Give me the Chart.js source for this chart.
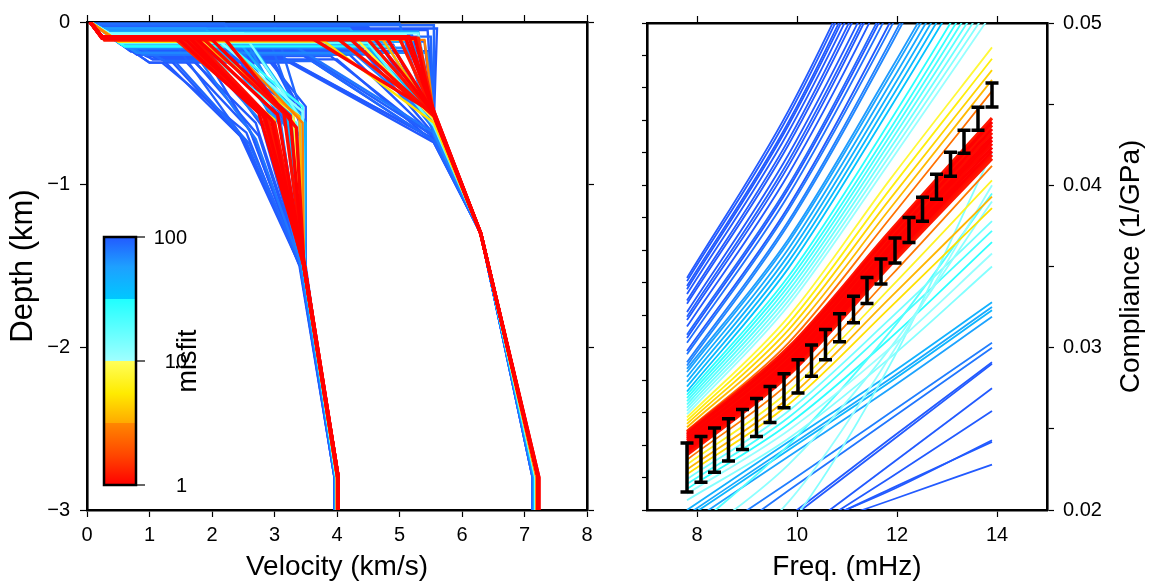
<!DOCTYPE html>
<html>
<head>
<meta charset="utf-8">
<script src="https://cdn.jsdelivr.net/npm/chart.js@4.4.1/dist/chart.umd.min.js"></script>
<style>
  body { margin: 0; background: #fff; }
  #wrap { position: relative; width: 1149px; height: 586px; }
  canvas { position: absolute; top: 0; }
  #velChart { left: 0; }
  #compChart { left: 600px; }
</style>
</head>
<body>
<div id="wrap">
  <canvas id="velChart" width="600" height="586"></canvas>
  <canvas id="compChart" width="549" height="586"></canvas>
</div>
<script>
// ---------- left panel: velocity models ----------
const velTicks = [0, 1, 2, 3, 4, 5, 6, 7, 8];
const depthTicks = [-3, -2, -1, 0];

const modelMisfit = [100, 100, 100, 100, 100, 100, 100, 100, 90, 90, 85, 80, 75, 70, 60, 50, 40, 25, 18, 14, 8, 5, 3.5, 1.3, 1.2, 1.15, 1.1, 1.05, 1.0, 1.0, 1.0,
  100, 100, 100, 100, 100, 100, 100, 95, 90, 85, 80, 70, 60, 45, 30, 12, 3, 1.0, 1.1, 1.0];
const sedDepth = [-0.22, -0.25, -0.20, -0.18, -0.04, -0.12, -0.15, -0.08, -0.24, -0.02, -0.01, -0.20, -0.10, -0.16, -0.14, -0.06, -0.11, -0.09, -0.13, -0.07, -0.10, -0.12, -0.09, -0.10, -0.10, -0.11, -0.10, -0.10, -0.10, -0.10, -0.10,
  -0.19, -0.21, -0.17, -0.14, -0.05, -0.03, -0.23, -0.13, -0.09, -0.16, -0.07, -0.19, -0.04, -0.12, -0.15, -0.08, -0.11, -0.10, -0.10, -0.09];
const sedVel = [1.10, 1.00, 0.80, 0.70, 0.25, 0.50, 0.60, 0.40, 1.25, 0.15, 0.10, 0.90, 0.45, 0.65, 0.55, 0.35, 0.50, 0.40, 0.55, 0.35, 0.42, 0.50, 0.40, 0.26, 0.25, 0.28, 0.25, 0.24, 0.26, 0.25, 0.25,
  0.85, 0.95, 0.75, 0.60, 0.30, 0.20, 1.05, 0.55, 0.40, 0.70, 0.30, 0.80, 0.25, 0.50, 0.60, 0.40, 0.45, 0.25, 0.25, 0.24];
const vsTop = [1.30, 1.20, 1.60, 2.00, 2.50, 2.80, 1.80, 2.40, 1.40, 3.00, 2.20, 2.20, 1.60, 2.60, 2.00, 2.30, 1.90, 2.10, 1.70, 2.50, 1.80, 1.50, 1.70, 1.40, 1.60, 1.50, 1.70, 2.20, 1.45, 1.55, 1.65,
  1.10, 1.50, 1.90, 2.30, 2.70, 2.00, 1.70, 1.40, 2.90, 2.40, 1.50, 2.70, 1.90, 2.60, 2.30, 2.00, 2.20, 1.75, 1.85, 1.95];
const vsMid = [2.50, 2.55, 2.70, 3.40, 3.50, 3.45, 2.65, 3.35, 2.60, 3.50, 3.30, 3.10, 2.90, 3.40, 3.30, 3.50, 3.20, 3.45, 3.35, 3.40, 3.30, 3.00, 3.40, 2.85, 2.90, 2.80, 3.00, 3.35, 2.75, 2.95, 2.85,
  2.45, 2.60, 2.80, 3.00, 3.45, 3.20, 2.75, 2.55, 3.40, 3.20, 2.70, 3.45, 3.10, 3.50, 3.45, 3.45, 3.45, 3.05, 3.15, 3.25];
const vsMidDepth = [-0.72, -0.68, -0.62, -0.55, -0.52, -0.60, -0.70, -0.75, -0.75, -0.65, -0.68, -0.62, -0.66, -0.70, -0.58, -0.64, -0.55, -0.52, -0.62, -0.58, -0.56, -0.60, -0.58, -0.58, -0.60, -0.55, -0.62, -0.65, -0.56, -0.60, -0.59,
  -0.70, -0.66, -0.64, -0.62, -0.56, -0.60, -0.70, -0.74, -0.62, -0.66, -0.72, -0.60, -0.64, -0.62, -0.60, -0.55, -0.62, -0.57, -0.56, -0.58];
const vpTop = [3.10, 3.30, 4.20, 5.50, 5.60, 5.40, 2.80, 5.20, 3.60, 5.55, 5.00, 4.60, 4.00, 5.10, 4.80, 5.30, 4.40, 5.00, 4.50, 5.30, 4.30, 3.80, 4.70, 5.30, 5.00, 4.50, 4.20, 3.60, 5.10, 4.80, 5.25,
  3.40, 3.90, 4.40, 4.90, 5.45, 4.50, 4.00, 3.20, 5.50, 5.30, 3.00, 5.45, 4.20, 5.20, 4.90, 5.10, 5.40, 4.60, 4.00, 5.15];
const vpMidDepth = [-0.74, -0.72, -0.70, -0.66, -0.60, -0.65, -0.72, -0.70, -0.73, -0.55, -0.68, -0.66, -0.62, -0.64, -0.62, -0.60, -0.58, -0.58, -0.64, -0.57, -0.60, -0.62, -0.58, -0.56, -0.56, -0.57, -0.58, -0.56, -0.55, -0.56, -0.57,
  -0.73, -0.71, -0.69, -0.68, -0.62, -0.64, -0.74, -0.70, -0.63, -0.70, -0.68, -0.68, -0.63, -0.62, -0.60, -0.59, -0.58, -0.56, -0.57, -0.55];
const vsDeep = [3.42, 3.40, 3.44, 3.48, 3.50, 3.47, 3.41, 3.45, 3.43, 3.49, 3.46, 3.44, 3.42, 3.47, 3.46, 3.49, 3.45, 3.47, 3.46, 3.48, 3.47, 3.46, 3.47, 3.47, 3.48, 3.47, 3.48, 3.47, 3.48, 3.47, 3.48,
  3.41, 3.42, 3.43, 3.45, 3.48, 3.46, 3.42, 3.41, 3.47, 3.44, 3.43, 3.47, 3.45, 3.48, 3.47, 3.47, 3.47, 3.47, 3.48, 3.47];
const vsBase = [3.97, 3.96, 3.98, 3.99, 3.98, 3.97, 3.96, 3.98, 3.97, 3.99, 3.98, 3.97, 3.98, 3.97, 3.98, 3.99, 3.98, 3.99, 3.99, 4.00, 4.00, 4.00, 4.00, 4.01, 4.01, 4.01, 4.02, 4.02, 4.02, 4.02, 4.02,
  3.96, 3.97, 3.97, 3.98, 3.98, 3.97, 3.96, 3.97, 3.98, 3.97, 3.98, 3.98, 3.98, 3.99, 3.99, 3.99, 4.00, 4.02, 4.02, 4.02];
const vpBase = [7.14, 7.13, 7.15, 7.16, 7.17, 7.15, 7.14, 7.16, 7.13, 7.17, 7.15, 7.14, 7.16, 7.15, 7.16, 7.17, 7.16, 7.18, 7.18, 7.19, 7.19, 7.20, 7.20, 7.22, 7.22, 7.22, 7.22, 7.23, 7.22, 7.23, 7.22,
  7.13, 7.14, 7.15, 7.15, 7.16, 7.14, 7.13, 7.14, 7.16, 7.15, 7.16, 7.15, 7.16, 7.17, 7.17, 7.18, 7.19, 7.22, 7.22, 7.22];
// shared nodes of every model
const surfaceVel = 0.05;
const vpMidVel = 5.55;
const vpKnee = [6.3, -1.3];
const vsDeepDepth = -1.5;
const baseDepth = -2.8;
const bottomDepth = -3.0;

// ---------- right panel: compliance curves ----------
const freqNodes = [7.8, 9.83, 11.87, 13.9];
const freqTicks = [8, 10, 12, 14];
const compTicks = [0.02, 0.025, 0.03, 0.035, 0.04, 0.045, 0.05];
const compMinorTicks = [0.02, 0.022, 0.024, 0.026, 0.028, 0.03, 0.032, 0.034, 0.036, 0.038, 0.04, 0.042, 0.044, 0.046, 0.048, 0.05];

const curvesBlueUpper = [
  [0.0289, 0.0376, 0.0486, 0.0607], [0.0291, 0.0378, 0.0489, 0.0611], [0.0296, 0.0385, 0.0497, 0.0622],
  [0.0298, 0.0387, 0.0501, 0.0626], [0.0303, 0.0394, 0.0509, 0.0636], [0.0306, 0.0398, 0.0514, 0.0643],
  [0.0308, 0.0400, 0.0517, 0.0647], [0.0313, 0.0407, 0.0526, 0.0657], [0.0317, 0.0412, 0.0533, 0.0666],
  [0.0319, 0.0415, 0.0536, 0.0670], [0.0322, 0.0419, 0.0541, 0.0676], [0.0327, 0.0425, 0.0549, 0.0687],
  [0.0329, 0.0428, 0.0553, 0.0691], [0.0333, 0.0433, 0.0559, 0.0699], [0.0336, 0.0437, 0.0564, 0.0706],
  [0.0338, 0.0439, 0.0568, 0.0710], [0.0341, 0.0443, 0.0573, 0.0716], [0.0343, 0.0446, 0.0576, 0.0720]
];
const misfitBlueUpper = [70, 75, 80, 100, 85, 100, 90, 100, 100, 95, 100, 100, 100, 100, 100, 100, 100, 100];

const curvesLightUpper = [
  [0.0273, 0.0349, 0.0448, 0.0551], [0.0276, 0.0353, 0.0453, 0.0558], [0.0279, 0.0357, 0.0458, 0.0564],
  [0.0282, 0.0361, 0.0463, 0.0570], [0.0285, 0.0365, 0.0468, 0.0576], [0.0287, 0.0367, 0.0471, 0.0580]
];
const misfitLightUpper = [34, 40, 45, 50, 55, 60];

const curvesCyanUpper = [
  [0.0259, 0.0326, 0.0415, 0.0506], [0.0261, 0.0329, 0.0419, 0.0512], [0.0263, 0.0332, 0.0423, 0.0518],
  [0.0265, 0.0335, 0.0427, 0.0524], [0.0267, 0.0338, 0.0431, 0.0530], [0.0269, 0.0341, 0.0435, 0.0536],
  [0.0271, 0.0344, 0.0440, 0.0542]
];
const misfitCyanUpper = [11, 13, 16, 19, 22, 26, 29];

const curvesOrangeUpper = [
  [0.0249, 0.0303, 0.0380, 0.0458], [0.0251, 0.0307, 0.0386, 0.0465], [0.0253, 0.0311, 0.0392, 0.0471],
  [0.0255, 0.0315, 0.0398, 0.0478], [0.0257, 0.0319, 0.0404, 0.0485]
];
const misfitOrangeUpper = [2.6, 3.6, 4.5, 6, 8];

const curvesRed = [
  [0.02340, 0.02831, 0.03510, 0.04165], [0.02353, 0.02847, 0.03530, 0.04188], [0.02365, 0.02862, 0.03548, 0.04210],
  [0.02378, 0.02877, 0.03567, 0.04233], [0.02391, 0.02893, 0.03587, 0.04256], [0.02404, 0.02909, 0.03606, 0.04279],
  [0.02416, 0.02923, 0.03624, 0.04300], [0.02429, 0.02939, 0.03644, 0.04324], [0.02442, 0.02955, 0.03663, 0.04347],
  [0.02455, 0.02971, 0.03683, 0.04370], [0.02467, 0.02985, 0.03701, 0.04391], [0.02480, 0.03001, 0.03720, 0.04414]
];
const misfitRed = [1.2, 1.1, 1.0, 1.0, 1.05, 1.0, 1.0, 1.1, 1.0, 1.15, 1.0, 1.2];

const curvesOrangeLower = [
  [0.0231, 0.0278, 0.0344, 0.0412], [0.0228, 0.0273, 0.0337, 0.0403],
  [0.0225, 0.0269, 0.0331, 0.0393], [0.0222, 0.0265, 0.0325, 0.0386]
];
const misfitOrangeLower = [2.8, 7, 3.5, 5];

const curvesCyanLower = [
  [0.0219, 0.0261, 0.0318, 0.0378], [0.0216, 0.0257, 0.0313, 0.0372], [0.0213, 0.0253, 0.0306, 0.0365],
  [0.0210, 0.0249, 0.0300, 0.0358], [0.0206, 0.0244, 0.0294, 0.0350],
  [0.0185, 0.0240, 0.0310, 0.0395], [0.0178, 0.0228, 0.0300, 0.0390],
  [0.0150, 0.0205, 0.0295, 0.0400], [0.0130, 0.0190, 0.0290, 0.0420]
];
const misfitCyanLower = [15, 22, 28, 11, 13, 20, 12, 11, 13];

const curvesLowerFan = [
  [0.0200, 0.0242, 0.0284, 0.0328], [0.0197, 0.0239, 0.0281, 0.0325], [0.0195, 0.0237, 0.0279, 0.0323],
  [0.0191, 0.0233, 0.0275, 0.0319], [0.0175, 0.0217, 0.0260, 0.0303], [0.0167, 0.0212, 0.0256, 0.0300],
  [0.0149, 0.0196, 0.0244, 0.0291], [0.0146, 0.0194, 0.0242, 0.0290], [0.0134, 0.0181, 0.0228, 0.0275],
  [0.0139, 0.0180, 0.0220, 0.0261], [0.0154, 0.0185, 0.0212, 0.0243], [0.0150, 0.0183, 0.0213, 0.0242],
  [0.0160, 0.0184, 0.0206, 0.0228]
];
const misfitLowerFan = [45, 50, 42, 55, 75, 80, 100, 100, 100, 100, 100, 100, 100];

// observed compliance with error bars
const obsFreq = [7.8, 8.08, 8.35, 8.63, 8.91, 9.19, 9.46, 9.74, 10.02, 10.29, 10.57, 10.85, 11.13, 11.40, 11.68, 11.96, 12.24, 12.51, 12.79, 13.07, 13.34, 13.62, 13.9];
const obsComp = [0.02262, 0.02312, 0.02369, 0.02432, 0.02496, 0.02570, 0.02650, 0.02735, 0.02823, 0.02920, 0.03019, 0.03123, 0.03235, 0.03352, 0.03469, 0.03599, 0.03725, 0.03852, 0.03991, 0.04130, 0.04269, 0.04410, 0.04556];
const obsErr = [0.00151, 0.00141, 0.00136, 0.00130, 0.00123, 0.00117, 0.00111, 0.00105, 0.00103, 0.00096, 0.00093, 0.00086, 0.00082, 0.00080, 0.00077, 0.00077, 0.00077, 0.00074, 0.00077, 0.00074, 0.00071, 0.00071, 0.00074];

// misfit colour scale (log10 misfit / 2 -> colour)
const cmapStops = [
  [0.00, [255, 0, 0]],
  [0.12, [255, 70, 0]],
  [0.25, [255, 135, 0]],
  [0.25, [255, 170, 0]],
  [0.37, [255, 235, 0]],
  [0.50, [255, 255, 90]],
  [0.50, [160, 255, 255]],
  [0.75, [32, 255, 255]],
  [0.75, [0, 200, 255]],
  [0.88, [30, 160, 255]],
  [1.00, [34, 90, 255]]
];

const FONT = '"Liberation Sans", Arial, Helvetica, sans-serif';
Chart.defaults.font.family = FONT;
Chart.defaults.color = '#000';

function misfitColor(m) {
  const t = Math.min(1, Math.max(0, Math.log10(m) / 2));
  for (let i = 1; i < cmapStops.length; i++) {
    const [t0, c0] = cmapStops[i - 1];
    const [t1, c1] = cmapStops[i];
    if (t1 > t0 && t <= t1) {
      const f = (t - t0) / (t1 - t0);
      const c = c0.map((v, k) => Math.round(v + (c1[k] - v) * f));
      return `rgb(${c.join(',')})`;
    }
  }
  return 'rgb(34,90,255)';
}

function lineSet(points, color, width, smooth) {
  return {
    data: points,
    showLine: true,
    borderColor: color,
    borderWidth: width,
    pointRadius: 0,
    fill: false,
    cubicInterpolationMode: smooth ? 'monotone' : 'default',
    tension: 0
  };
}

function frameAxis(extra) {
  return Object.assign({
    type: 'linear',
    grid: { drawOnChartArea: false, drawTicks: true, tickLength: 7, tickColor: '#000', tickWidth: 1.2 },
    border: { display: true, color: '#000', width: 2.6 },
    ticks: { font: { size: 20 }, color: '#000' }
  }, extra);
}

function fixedTicks(values) {
  return (s) => { s.ticks = values.map(v => ({ value: v })); };
}

// ---------- build left datasets ----------
// Chart.js paints dataset 0 last (on top), so best fits go first
const velDatasets = [];
const modelOrder = modelMisfit.map((m, i) => i).sort((a, b) => modelMisfit[a] - modelMisfit[b]);
modelOrder.forEach(i => {
  const color = misfitColor(modelMisfit[i]);
  const width = modelMisfit[i] < 2 ? 3.4 : 2.4;
  const vp = [
    { x: surfaceVel, y: 0 },
    { x: sedVel[i], y: sedDepth[i] },
    { x: vpTop[i], y: sedDepth[i] },
    { x: vpMidVel, y: vpMidDepth[i] },
    { x: vpKnee[0], y: vpKnee[1] },
    { x: vpBase[i], y: baseDepth },
    { x: vpBase[i], y: bottomDepth }
  ];
  const vs = [
    { x: surfaceVel, y: 0 },
    { x: sedVel[i], y: sedDepth[i] },
    { x: vsTop[i], y: sedDepth[i] },
    { x: vsMid[i], y: vsMidDepth[i] },
    { x: vsDeep[i], y: vsDeepDepth },
    { x: vsBase[i], y: baseDepth },
    { x: vsBase[i], y: bottomDepth }
  ];
  velDatasets.push(lineSet(vp, color, width, false), lineSet(vs, color, width, false));
});

const colorbarPlugin = {
  id: 'colorbar',
  afterDatasetsDraw(chart) {
    const { ctx, chartArea } = chart;
    const x0 = chartArea.left + 17, y0 = chartArea.top + 215, w = 32, h = 248;
    const grad = ctx.createLinearGradient(0, y0 + h, 0, y0);
    cmapStops.forEach(([t, c]) => grad.addColorStop(t, `rgb(${c.join(',')})`));
    ctx.save();
    ctx.fillStyle = grad;
    ctx.fillRect(x0, y0, w, h);
    ctx.strokeStyle = '#000';
    ctx.lineWidth = 2.5;
    ctx.strokeRect(x0, y0, w, h);
    ctx.lineWidth = 1.2;
    ctx.font = `20px ${FONT}`;
    ctx.fillStyle = '#000';
    ctx.textAlign = 'right';
    ctx.textBaseline = 'middle';
    [['100', y0], ['10', y0 + h / 2], ['1', y0 + h]].forEach(([label, ty]) => {
      ctx.beginPath();
      ctx.moveTo(x0 + w, ty);
      ctx.lineTo(x0 + w + 9, ty);
      ctx.stroke();
      ctx.fillText(label, chartArea.left + 100, ty + 1);
    });
    ctx.translate(chartArea.left + 102, y0 + h / 2);
    ctx.rotate(-Math.PI / 2);
    ctx.textAlign = 'center';
    ctx.font = `27px ${FONT}`;
    ctx.fillText('misfit', 0, 0);
    ctx.restore();
  }
};

new Chart(document.getElementById('velChart'), {
  type: 'scatter',
  data: { datasets: velDatasets },
  options: {
    responsive: false,
    animation: false,
    layout: { padding: 0 },
    plugins: { legend: { display: false }, tooltip: { enabled: false } },
    scales: {
      x: frameAxis({
        position: 'bottom', min: 0, max: 8,
        afterBuildTicks: fixedTicks(velTicks),
        afterFit: s => { s.height = 76; },
        ticks: { font: { size: 20 }, color: '#000', padding: 6 },
        title: { display: true, text: 'Velocity (km/s)', font: { size: 28 }, padding: { top: 0, bottom: 2 } }
      }),
      xTop: frameAxis({
        position: 'top', min: 0, max: 8,
        afterBuildTicks: fixedTicks(velTicks),
        afterFit: s => { s.height = 15; },
        ticks: { display: false }
      }),
      y: frameAxis({
        position: 'left', min: -3, max: 0,
        afterBuildTicks: fixedTicks(depthTicks),
        afterFit: s => { s.width = 87; },
        ticks: { font: { size: 20 }, color: '#000', padding: 10, callback: v => String(v).replace('-', '\u2212') },
        title: { display: true, text: 'Depth (km)', font: { size: 31 }, padding: { top: 5, bottom: 0 } }
      }),
      yRight: frameAxis({
        position: 'right', min: -3, max: 0,
        afterBuildTicks: fixedTicks(depthTicks),
        afterFit: s => { s.width = 13; },
        ticks: { display: false }
      })
    }
  },
  plugins: [colorbarPlugin]
});

// ---------- build right datasets ----------
const curveGroups = [
  [curvesBlueUpper, misfitBlueUpper],
  [curvesLowerFan, misfitLowerFan],
  [curvesLightUpper, misfitLightUpper],
  [curvesCyanUpper, misfitCyanUpper],
  [curvesCyanLower, misfitCyanLower],
  [curvesOrangeUpper, misfitOrangeUpper],
  [curvesOrangeLower, misfitOrangeLower],
  [curvesRed, misfitRed]
];
const allCurves = [];
curveGroups.forEach(([curves, misfits]) => {
  curves.forEach((c, i) => allCurves.push({ values: c, misfit: misfits[i] }));
});
allCurves.sort((a, b) => a.misfit - b.misfit);
const compDatasets = allCurves.map(c => lineSet(
  freqNodes.map((f, k) => ({ x: f, y: c.values[k] })),
  misfitColor(c.misfit),
  c.misfit < 2 ? 3.2 : 1.8,
  true
));

const errorBarPlugin = {
  id: 'errorBars',
  afterDatasetsDraw(chart) {
    const { ctx, chartArea, scales: { x, y } } = chart;
    ctx.save();
    ctx.beginPath();
    ctx.rect(chartArea.left, chartArea.top, chartArea.right - chartArea.left, chartArea.bottom - chartArea.top);
    ctx.clip();
    ctx.strokeStyle = '#000';
    ctx.lineWidth = 3.5;
    obsFreq.forEach((f, i) => {
      const px = x.getPixelForValue(f);
      const top = y.getPixelForValue(obsComp[i] + obsErr[i]);
      const bot = y.getPixelForValue(obsComp[i] - obsErr[i]);
      ctx.beginPath();
      ctx.moveTo(px, top); ctx.lineTo(px, bot);
      ctx.moveTo(px - 6.5, top); ctx.lineTo(px + 6.5, top);
      ctx.moveTo(px - 6.5, bot); ctx.lineTo(px + 6.5, bot);
      ctx.stroke();
    });
    ctx.restore();
  }
};

const complianceTitle = {
  id: 'complianceTitle',
  afterDraw(chart) {
    const { ctx, chartArea, scales: { y } } = chart;
    ctx.save();
    ctx.translate(y.right - 18, (chartArea.top + chartArea.bottom) / 2);
    ctx.rotate(-Math.PI / 2);
    ctx.font = `28px ${FONT}`;
    ctx.fillStyle = '#000';
    ctx.textAlign = 'center';
    ctx.textBaseline = 'middle';
    ctx.fillText('Compliance (1/GPa)', 0, 0);
    ctx.restore();
  }
};

new Chart(document.getElementById('compChart'), {
  type: 'scatter',
  data: { datasets: compDatasets },
  options: {
    responsive: false,
    animation: false,
    layout: { padding: 0 },
    plugins: { legend: { display: false }, tooltip: { enabled: false } },
    scales: {
      x: frameAxis({
        position: 'bottom', min: 7, max: 15,
        afterBuildTicks: fixedTicks(freqTicks),
        afterFit: s => { s.height = 76; },
        ticks: { font: { size: 20 }, color: '#000', padding: 6 },
        title: { display: true, text: 'Freq. (mHz)', font: { size: 28 }, padding: { top: 0, bottom: 2 } }
      }),
      xTop: frameAxis({
        position: 'top', min: 7, max: 15,
        afterBuildTicks: fixedTicks(freqTicks),
        afterFit: s => { s.height = 23; },
        ticks: { display: false }
      }),
      yLeft: frameAxis({
        position: 'left', min: 0.02, max: 0.05,
        afterBuildTicks: fixedTicks(compMinorTicks),
        afterFit: s => { s.width = 47; },
        grid: { drawOnChartArea: false, drawTicks: true, tickLength: 5, tickColor: '#000', tickWidth: 1.2 },
        ticks: { display: false }
      }),
      y: frameAxis({
        position: 'right', min: 0.02, max: 0.05,
        afterBuildTicks: fixedTicks(compTicks),
        afterFit: s => { s.width = 102; },
        ticks: {
          font: { size: 20 }, color: '#000', padding: 9,
          callback: v => (Math.abs(v * 100 - Math.round(v * 100)) < 1e-6 ? v.toFixed(2) : '')
        }
      })
    }
  },
  plugins: [errorBarPlugin, complianceTitle]
});
</script>
</body>
</html>
